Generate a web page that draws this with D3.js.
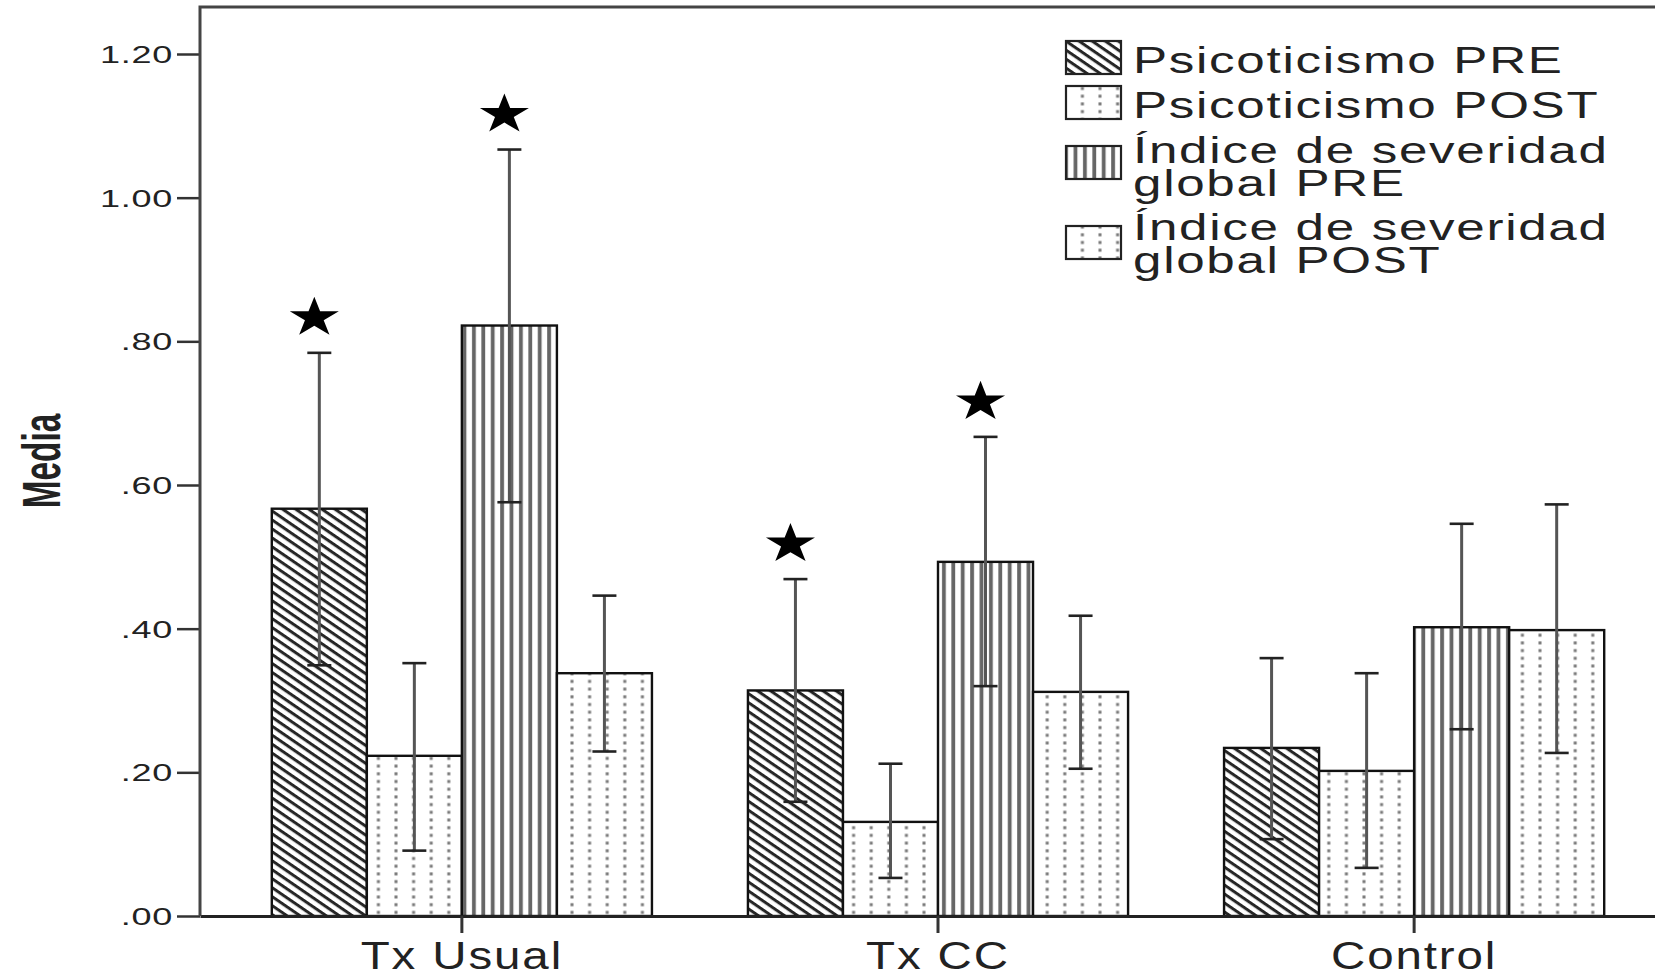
<!DOCTYPE html>
<html>
<head>
<meta charset="utf-8">
<script src="https://cdn.jsdelivr.net/npm/d3@7"></script>
<style>
  html, body { margin: 0; padding: 0; background: #fff; }
  svg { display: block; }
  text { font-family: "Liberation Sans", Arial, sans-serif; fill: #222; }
</style>
</head>
<body>
<svg id="chart" width="1655" height="977"></svg>
<script>
// ---------------- data ----------------
const categories = ["Tx Usual", "Tx CC", "Control"];
const seriesNames = ["Psicoticismo PRE", "Psicoticismo POST", "Índice de severidad global PRE", "Índice de severidad global POST"];
const legendLines = [["Psicoticismo PRE"], ["Psicoticismo POST"], ["Índice de severidad", "global PRE"], ["Índice de severidad", "global POST"]];

const psicPre      = [0.567, 0.314, 0.234];
const psicPreLo    = [0.349, 0.159, 0.107];
const psicPreHi    = [0.784, 0.469, 0.359];

const psicPost     = [0.223, 0.131, 0.202];
const psicPostLo   = [0.091, 0.053, 0.067];
const psicPostHi   = [0.352, 0.212, 0.338];

const isgPre       = [0.822, 0.493, 0.402];
const isgPreLo     = [0.576, 0.320, 0.260];
const isgPreHi     = [1.067, 0.667, 0.546];

const isgPost      = [0.338, 0.312, 0.398];
const isgPostLo    = [0.229, 0.205, 0.227];
const isgPostHi    = [0.446, 0.418, 0.573];

const psicPreStar  = [true, true, false];
const psicPostStar = [false, false, false];
const isgPreStar   = [true, true, false];
const isgPostStar  = [false, false, false];

const yTickValues = [0, 0.2, 0.4, 0.6, 0.8, 1.0, 1.2];
const yTickLabels = [".00", ".20", ".40", ".60", ".80", "1.00", "1.20"];
const yTitle = "Media";

// ---------------- build table ----------------
const means = [psicPre, psicPost, isgPre, isgPost];
const lows  = [psicPreLo, psicPostLo, isgPreLo, isgPostLo];
const highs = [psicPreHi, psicPostHi, isgPreHi, isgPostHi];
const stars = [psicPreStar, psicPostStar, isgPreStar, isgPostStar];
const patternIds = ["pDiag", "pDots", "pVert", "pDots2"];

const rows = [];
categories.forEach((c, ci) => {
  seriesNames.forEach((s, si) => {
    rows.push({cat: c, si, value: means[si][ci], lo: lows[si][ci], hi: highs[si][ci], star: stars[si][ci]});
  });
});

// ---------------- layout ----------------
const svg = d3.select("#chart");
const plotLeft = 200, plotBottom = 916, plotTopFrame = 7, plotRightEnd = 1676;

const y = d3.scaleLinear().domain([0, 1.2]).range([plotBottom, 54]);
const x0 = d3.scaleBand().domain(categories).range([plotLeft, plotRightEnd]).paddingInner(0).paddingOuter(0.05);
const x1 = d3.scaleBand().domain(d3.range(seriesNames.length)).range([0, x0.bandwidth()]).paddingInner(0).paddingOuter(0.505);

// ---------------- patterns ----------------
const defs = svg.append("defs");
// diagonal "\" hatch
const pd = defs.append("pattern").attr("id", "pDiag").attr("patternUnits", "userSpaceOnUse")
  .attr("width", 12).attr("height", 7.4).attr("patternTransform", "rotate(34.4)");
pd.append("rect").attr("width", 12).attr("height", 7.4).attr("fill", "#fff");
pd.append("rect").attr("y", 0).attr("width", 12).attr("height", 3).attr("fill", "#262626");
// vertical lines
const pv = defs.append("pattern").attr("id", "pVert").attr("patternUnits", "userSpaceOnUse")
  .attr("width", 9.4).attr("height", 10);
pv.append("rect").attr("width", 9.4).attr("height", 10).attr("fill", "#fff");
pv.append("rect").attr("x", 2).attr("width", 3.8).attr("height", 10).attr("fill", "#666");
// dotted columns
["pDots", "pDots2"].forEach(id => {
  const p = defs.append("pattern").attr("id", id).attr("patternUnits", "userSpaceOnUse")
    .attr("width", 17.6).attr("height", 7.7);
  p.append("rect").attr("width", 17.6).attr("height", 7.7).attr("fill", "#fff");
  p.append("rect").attr("x", 7.3).attr("y", 2.3).attr("width", 3).attr("height", 3).attr("fill", "#7a7a7a");
});

// ---------------- bars ----------------
const gBars = svg.append("g");
gBars.selectAll("rect.bar").data(rows).join("rect")
  .attr("class", "bar")
  .attr("x", d => x0(d.cat) + x1(d.si))
  .attr("y", d => y(d.value))
  .attr("width", x1.bandwidth())
  .attr("height", d => y(0) - y(d.value))
  .attr("fill", d => `url(#${patternIds[d.si]})`)
  .attr("stroke", "#111")
  .attr("stroke-width", 2.4);

// ---------------- error bars ----------------
const cx = d => x0(d.cat) + x1(d.si) + x1.bandwidth() / 2;
const capW = 24;
const gErr = svg.append("g");
gErr.selectAll("line.stem").data(rows).join("line")
  .attr("x1", cx).attr("x2", cx)
  .attr("y1", d => y(d.lo)).attr("y2", d => y(d.hi))
  .attr("stroke", "#555").attr("stroke-width", 3);
gErr.selectAll("line.capHi").data(rows).join("line")
  .attr("x1", d => cx(d) - capW / 2).attr("x2", d => cx(d) + capW / 2)
  .attr("y1", d => y(d.hi)).attr("y2", d => y(d.hi))
  .attr("stroke", "#222").attr("stroke-width", 2.6);
gErr.selectAll("line.capLo").data(rows).join("line")
  .attr("x1", d => cx(d) - capW / 2).attr("x2", d => cx(d) + capW / 2)
  .attr("y1", d => y(d.lo)).attr("y2", d => y(d.lo))
  .attr("stroke", "#222").attr("stroke-width", 2.6);

// ---------------- stars ----------------
const starPath = d3.symbol(d3.symbolStar).size(747)();
svg.append("g").selectAll("path.star").data(rows.filter(d => d.star)).join("path")
  .attr("d", starPath)
  .attr("transform", d => `translate(${cx(d) - 5},${y(d.hi) - 35}) scale(1,0.815)`)
  .attr("fill", "#000");

// ---------------- axes ----------------
const yAxis = d3.axisLeft(y).tickValues(yTickValues).tickFormat((d, i) => yTickLabels[i])
  .tickSize(23).tickSizeOuter(0);
const gy = svg.append("g").attr("transform", `translate(${plotLeft},0)`).call(yAxis);
gy.select(".domain").remove();
gy.selectAll(".tick line").attr("stroke", "#333").attr("stroke-width", 2.5);
gy.selectAll(".tick text")
  .attr("x", 0).attr("dy", "0.36em")
  .attr("transform", "translate(-27,0) scale(1.5,1)")
  .style("font-size", "24px").style("letter-spacing", "0.5px")
  .style("font-family", "'Liberation Sans', Arial, sans-serif").attr("fill", "#222");

const xAxis = d3.axisBottom(x0).tickSize(17).tickSizeOuter(0);
const gx = svg.append("g").attr("transform", `translate(0,${plotBottom})`).call(xAxis);
gx.select(".domain").attr("stroke", "#222").attr("stroke-width", 3);
gx.selectAll(".tick line").attr("stroke", "#333").attr("stroke-width", 3);
gx.selectAll(".tick text")
  .attr("y", 53).attr("dy", 0)
  .attr("transform", "scale(1.25,1)")
  .style("font-size", "38px").style("letter-spacing", "1.5px")
  .style("font-family", "'Liberation Sans', Arial, sans-serif").attr("fill", "#222");

// frame (left and top)
svg.append("path")
  .attr("d", d3.line()([[plotRightEnd, plotTopFrame], [plotLeft, plotTopFrame], [plotLeft, plotBottom]]))
  .attr("fill", "none").attr("stroke", "#444").attr("stroke-width", 3);

// y title
svg.append("text")
  .attr("text-anchor", "middle")
  .attr("transform", "translate(60,461) rotate(-90) scale(0.618,1)")
  .style("font-size", "54px").style("font-weight", "bold")
  .attr("fill", "#000")
  .text(yTitle);

// ---------------- legend ----------------
const legTops = [41, 86, 146, 226];
const legBase = [73, 118, 163, 240];
const legLineStep = 33;
const gl = svg.append("g");
legendLines.forEach((lines, i) => {
  gl.append("rect").attr("x", 1066).attr("y", legTops[i]).attr("width", 55).attr("height", 33)
    .attr("fill", `url(#${patternIds[i]})`).attr("stroke", "#222").attr("stroke-width", 2.2);
  const t = gl.append("text")
    .attr("transform", `translate(1133,${legBase[i]}) scale(1.42,1)`)
    .style("font-size", "36px").style("letter-spacing", "1.2px")
    .attr("fill", "#1a1a1a");
  lines.forEach((ln, j) => {
    t.append("tspan").attr("x", 0).attr("dy", j === 0 ? 0 : legLineStep).text(ln);
  });
});
</script>
</body>
</html>
